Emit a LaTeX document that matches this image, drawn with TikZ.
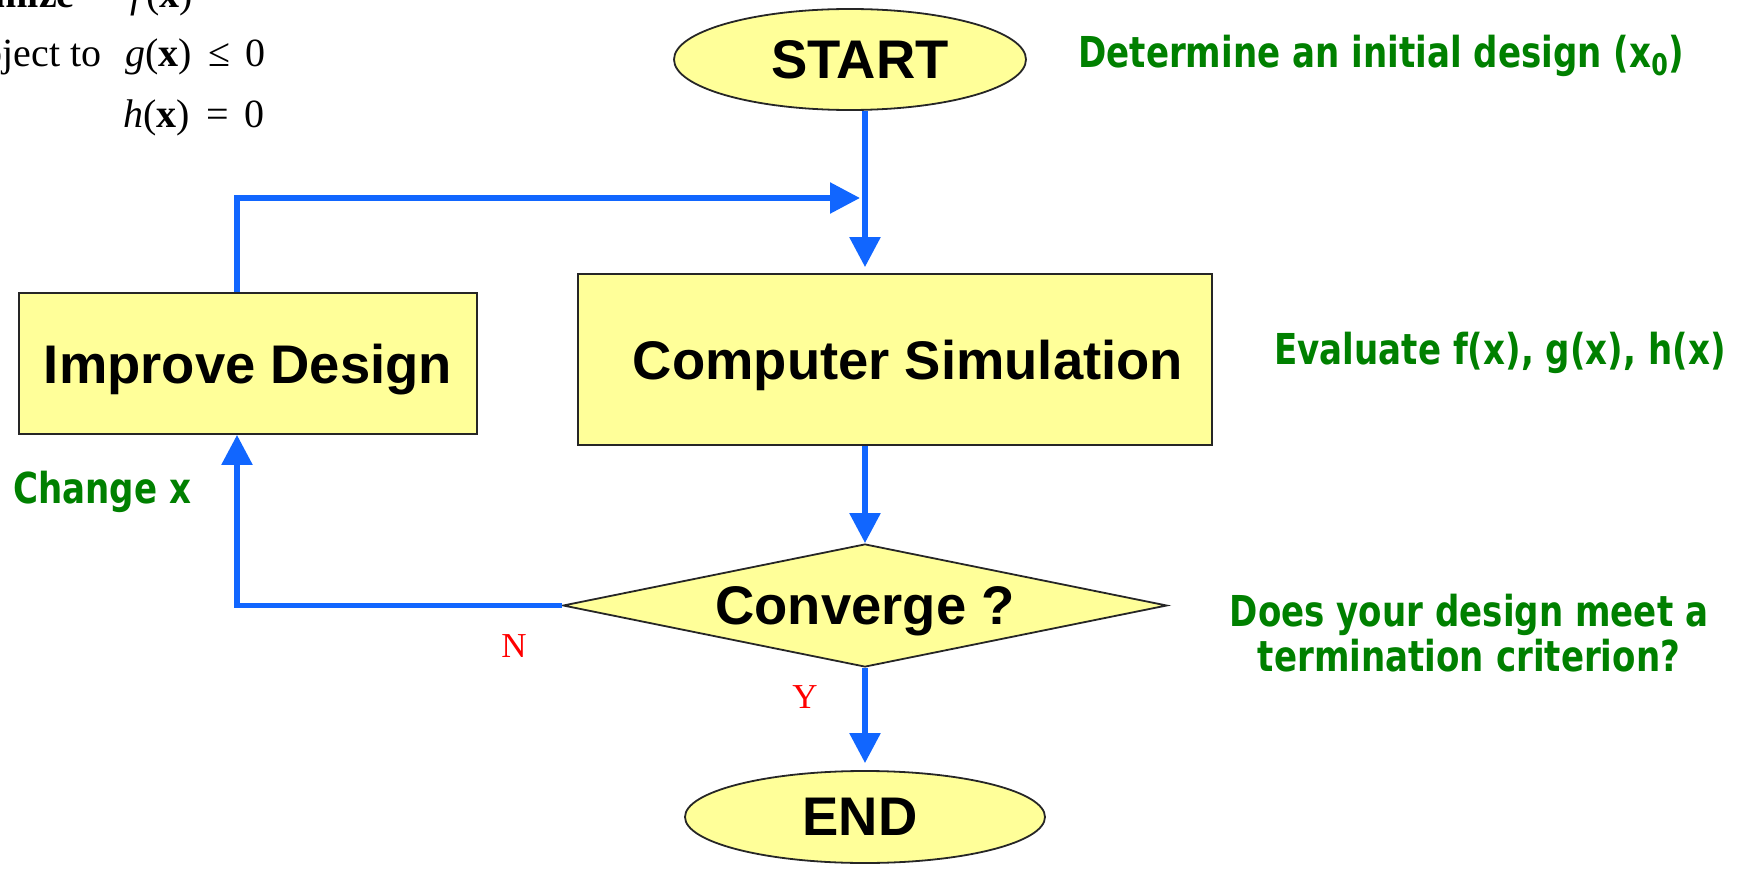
\documentclass[tikz,border=0pt]{standalone}
\usepackage{fontspec}
\setmainfont{Liberation Serif}
\newfontfamily\boxfont{Liberation Sans}
\newfontfamily\notefont[FakeStretch=0.8]{DejaVu Sans}
\usepackage{xcolor}
\usetikzlibrary{arrows.meta, positioning, shapes.geometric}
\definecolor{boxfill}{HTML}{FFFF99}
\definecolor{flowblue}{HTML}{1166FF}
\definecolor{notegreen}{HTML}{008000}

\begin{document}
\begin{tikzpicture}[
    x=0.5pt, y=-0.5pt,
    shp/.style={draw=black!85, line width=0.9pt, fill=boxfill, inner sep=0pt,
      text depth=0pt, font=\boxfont\bfseries\fontsize{27.2}{32}\selectfont},
    term/.style={shp, ellipse},
    proc/.style={shp, rectangle},
    dec/.style={shp, diamond, aspect=4.9},
    flow/.style={draw=flowblue, line width=2.8pt, -{Triangle[length=15pt, width=15pt]}},
    note/.style={text=notegreen, inner sep=0pt,
      font=\notefont\bfseries\fontsize{21.3}{22.5}\selectfont},
    yn/.style={text=red, inner sep=0pt, font=\fontsize{17.5}{20}\selectfont},
    eq/.style={inner sep=0pt, font=\fontsize{20}{24}\selectfont},
  ]
  \useasboundingbox (0,0) rectangle (1752,872);

  % problem statement, cut off by the page edge
  \node[eq, anchor=base east] (minw) at (75,8) {\textbf{Minimize}};
  \node[eq, anchor=base west] (fobj) at (130,8) {\textit{f}(\textbf{x})};
  \node[eq, anchor=base east] (subj) at (102,67) {subject to};
  \node[eq, anchor=base west] (gcon) at (125,67)
    {\textit{g}(\textbf{x})\hspace{0.4em}≤\hspace{0.4em}0};
  \node[eq, anchor=base west] (hcon) at (123,128)
    {\textit{h}(\textbf{x})\hspace{0.4em}=\hspace{0.4em}0};

  % flowchart blocks
  \node[term, minimum width=176pt, minimum height=50.5pt] (start) at (850,59.5)
    {\hspace*{10pt}START};
  \node[proc, minimum width=317pt, minimum height=85.5pt] (sim) at (895,359.5)
    {\hspace*{13pt}Computer Simulation};
  \node[proc, minimum width=229pt, minimum height=70.5pt] (improve) at (248,363.5)
    {Improve Design};
  \node[dec, minimum width=302pt, minimum height=61.5pt] (conv) at (865,605.5)
    {Converge ?};
  \node[term, minimum width=180pt, minimum height=46pt] (stop) at (865,817)
    {END\hspace*{5pt}};

  % connectors
  \coordinate (turn) at (237,198);
  \draw[flow, shorten >=3pt] (start.south -| conv) -- (sim.north -| conv);
  \draw[flow] (sim.south -| conv) -- (conv.north);
  \draw[flow, shorten >=3.5pt] (conv.south) -- (stop.north);
  \draw[flow] (conv.west) -- (conv.west -| turn) -- (improve.south -| turn);
  \draw[flow, shorten >=2.5pt] (improve.north -| turn) -- (turn) -- (turn -| conv);

  % branch labels
  \node[yn] (no) at (514,646) {N};
  \node[yn] (yes) at (805,697) {Y};

  % notes
  \node[note, anchor=base west] (n0) at (1078,68)
    {Determine an initial design (x\textsubscript{0})};
  \node[note, anchor=base west] (n1) at (1274,364) {Evaluate f(x), g(x), h(x)};
  \node[note, anchor=base west] (n2) at (13,503) {Change x};
  \node[note, align=center] (n3) at (1469,633)
    {Does your design meet a\\termination criterion?};
\end{tikzpicture}
\end{document}
